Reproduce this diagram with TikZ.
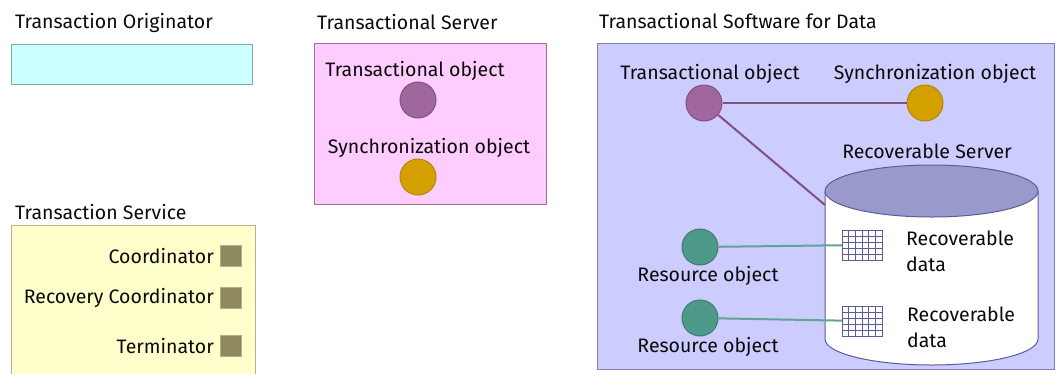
\documentclass[tikz,border=0pt]{standalone}
\usepackage{fontspec}
\setmainfont{Fira Sans}
\usetikzlibrary{positioning}

\definecolor{origfill}{HTML}{CCFFFF}
\definecolor{origline}{HTML}{80A8A8}
\definecolor{svcfill}{HTML}{FFFFCC}
\definecolor{svcline}{HTML}{B3B38C}
\definecolor{srvfill}{HTML}{FFCCFF}
\definecolor{srvline}{HTML}{A070A0}
\definecolor{datafill}{HTML}{CCCCFF}
\definecolor{dataline}{HTML}{8080B3}
\definecolor{tobj}{HTML}{A0669E}
\definecolor{sobj}{HTML}{D4A000}
\definecolor{robj}{HTML}{4E9A8A}
\definecolor{sqfill}{HTML}{8F8A5E}
\definecolor{cyltop}{HTML}{9999CC}
\definecolor{cylline}{HTML}{5C5C99}
\definecolor{txtcol}{HTML}{0A0A0A}

\tikzset{
  txt/.style={font=\fontsize{19.5}{26}\selectfont, text=txtcol, inner sep=1pt},
  every label/.style={txt},
  title/.style={txt, anchor=base west},
  panel/.style={anchor=north west, line width=1pt, inner sep=0pt},
  obj/.style={circle, minimum size=36, inner sep=0pt, line width=1pt, label distance=2pt},
  sqbox/.style={minimum size=21, inner sep=0pt, fill=sqfill, draw=sqfill!70!white, line width=1pt},
  link/.style={line width=2pt},
  datagrid/.style={minimum width=40, minimum height=30, inner sep=0pt, draw=cylline, fill=white,
    path picture={
      \foreach \k in {1,...,5}
        \draw[cylline, line width=0.8pt] ([xshift=\k*6.67pt]path picture bounding box.south west) -- ([xshift=\k*6.67pt]path picture bounding box.north west);
      \foreach \k in {1,...,4}
        \draw[cylline, line width=0.8pt] ([yshift=\k*6pt]path picture bounding box.south west) -- ([yshift=\k*6pt]path picture bounding box.south east);
    }},
}

\begin{document}
\begin{tikzpicture}[x=1pt, y=-1pt]
\useasboundingbox (0,0) rectangle (1056,373);

% originator
\node[title] at (14,28) {Transaction Originator};
\node[panel, fill=origfill, draw=origline, minimum width=241, minimum height=40] (orig) at (11,44) {};

% transaction service
\node[title] at (14,219) {Transaction Service};
\filldraw[fill=svcfill, draw=svcline, line width=1pt] (11,380) -- (11,225) -- (255,225) -- (255,380);
\node[sqbox] (coord) at (231,256) {};
\node[sqbox] (recov) at (231,298) {};
\node[sqbox] (term) at (231,346) {};
\node[txt, left=5pt of coord] {Coordinator};
\node[txt, left=5pt of recov] {Recovery Coordinator};
\node[txt, left=5pt of term] {Terminator};

% transactional server
\node[title] at (316,29) {Transactional Server};
\node[panel, fill=srvfill, draw=srvline, minimum width=232, minimum height=161] (srv) at (314,43) {};
\node[obj, fill=tobj, draw=tobj!80!black, label={[xshift=-3pt]above:Transactional object}] (srvto) at (418,100) {};
\node[obj, fill=sobj, draw=sobj!85!black, label={[xshift=11pt]above:Synchronization object}] (srvso) at (418,177) {};

% transactional software for data
\node[title] at (598,28) {Transactional Software for Data};
\node[panel, fill=datafill, draw=dataline, minimum width=457, minimum height=326] (data) at (597,43) {};

\node[txt] at (927,151) {Recoverable Server};
\filldraw[fill=white, draw=cylline, line width=1pt] (825,191) -- (825,339)
  arc[start angle=180, end angle=0, x radius=106.5, y radius=26] -- (1038,191);
\filldraw[fill=cyltop, draw=cylline, line width=1pt] (931.5,191) ellipse[x radius=106.5, y radius=26];
\coordinate (cylpt) at (825,205);

\node[obj, fill=tobj, draw=tobj!80!black, label={[xshift=6pt]above:Transactional object}] (to) at (704,103) {};
\node[obj, fill=sobj, draw=sobj!85!black, label={[xshift=10pt]above:Synchronization object}] (so) at (925,103) {};
\node[obj, fill=robj, draw=robj!80!black, label={[xshift=8pt]below:Resource object}] (res1) at (700,247) {};
\node[obj, fill=robj, draw=robj!80!black, label={[xshift=8pt]below:Resource object}] (res2) at (700,318) {};

\node[datagrid] (grid1) at (862,245) {};
\node[datagrid] (grid2) at (862,321) {};
\node[txt, anchor=west, align=left] at (905,251) {Recoverable\\data};
\node[txt, anchor=west, align=left] at (906,327) {Recoverable\\data};

\draw[link, tobj!80!black] (to) -- (so);
\draw[link, tobj!80!black] (to) -- (cylpt);
\draw[link, robj!90!white] (res1) -- (grid1);
\draw[link, robj!90!white] (res2) -- (grid2);
\end{tikzpicture}
\end{document}
